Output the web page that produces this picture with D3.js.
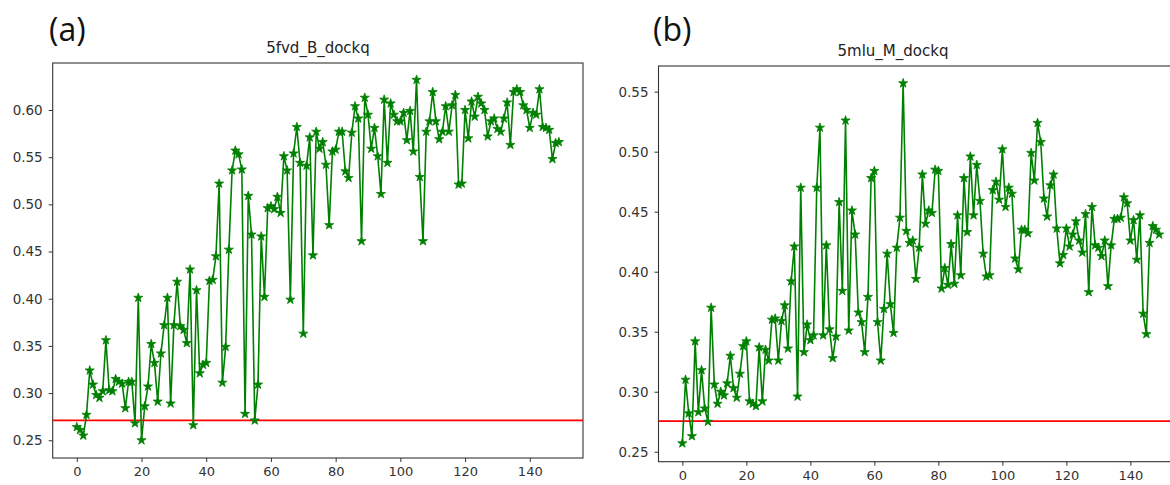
<!DOCTYPE html>
<head>
<meta charset="utf-8">
<style>
body {
    margin: 0;
    background: #fff;
}
.tick line {
    stroke: #333;
}
.tick text {
    fill: #333;
    font-family: "DejaVu Sans", sans-serif;
    font-size: 13px;
}
.y-axis .tick text {
    font-size: 13.5px;
}
.title {
    font-family: "DejaVu Sans", sans-serif;
    font-size: 15px;
    fill: #222;
}
.panel-label {
    font-family: "Open Sans", sans-serif;
    font-size: 32px;
    fill: #111;
}
</style>
</head>
<body>
<div class="viz"></div>

<script src="https://d3js.org/d3.v7.min.js"></script>

<script>
// values, one per step 0..149
const dockqA = [
    0.264, 0.261, 0.255, 0.277, 0.324, 0.309, 0.298, 0.295, 0.302, 0.356,
    0.303, 0.302, 0.315, 0.312, 0.310, 0.284, 0.312, 0.312, 0.268, 0.401,
    0.250, 0.286, 0.307, 0.352, 0.332, 0.291, 0.342, 0.372, 0.401, 0.289,
    0.372, 0.418, 0.371, 0.367, 0.353, 0.431, 0.266, 0.409, 0.321, 0.330,
    0.332, 0.419, 0.420, 0.445, 0.522, 0.311, 0.349, 0.452, 0.536, 0.557,
    0.553, 0.537, 0.278, 0.509, 0.468, 0.271, 0.309, 0.466, 0.402, 0.496,
    0.498, 0.495, 0.508, 0.491, 0.551, 0.536, 0.399, 0.554, 0.582, 0.544,
    0.363, 0.541, 0.571, 0.446, 0.577, 0.559, 0.566, 0.542, 0.478, 0.556,
    0.558, 0.577, 0.577, 0.535, 0.528, 0.576, 0.604, 0.591, 0.461, 0.613,
    0.595, 0.559, 0.581, 0.551, 0.511, 0.611, 0.544, 0.607, 0.595, 0.588,
    0.588, 0.597, 0.568, 0.599, 0.556, 0.632, 0.529, 0.461, 0.577, 0.588,
    0.619, 0.588, 0.569, 0.577, 0.604, 0.577, 0.605, 0.616, 0.521, 0.522,
    0.600, 0.570, 0.609, 0.593, 0.614, 0.607, 0.600, 0.572, 0.588, 0.591,
    0.580, 0.577, 0.591, 0.608, 0.563, 0.619, 0.622, 0.619, 0.605, 0.600,
    0.581, 0.597, 0.595, 0.622, 0.582, 0.581, 0.579, 0.548, 0.565, 0.566
];
const dockqB = [
    0.257, 0.310, 0.282, 0.263, 0.342, 0.283, 0.318, 0.286, 0.275, 0.370,
    0.306, 0.290, 0.300, 0.297, 0.307, 0.330, 0.303, 0.295, 0.315, 0.338,
    0.342, 0.292, 0.290, 0.288, 0.337, 0.292, 0.335, 0.326, 0.360, 0.361,
    0.326, 0.359, 0.372, 0.336, 0.392, 0.421, 0.296, 0.470, 0.333, 0.356,
    0.343, 0.347, 0.470, 0.520, 0.347, 0.422, 0.352, 0.328, 0.346, 0.458,
    0.384, 0.526, 0.351, 0.451, 0.431, 0.366, 0.358, 0.333, 0.379, 0.478,
    0.484, 0.358, 0.326, 0.369, 0.415, 0.373, 0.349, 0.420, 0.445, 0.557,
    0.434, 0.424, 0.426, 0.394, 0.420, 0.481, 0.440, 0.451, 0.449, 0.485,
    0.484, 0.386, 0.403, 0.389, 0.423, 0.390, 0.447, 0.397, 0.478, 0.433,
    0.496, 0.447, 0.489, 0.459, 0.415, 0.396, 0.397, 0.468, 0.475, 0.460,
    0.502, 0.454, 0.470, 0.465, 0.411, 0.402, 0.435, 0.435, 0.432, 0.499,
    0.476, 0.524, 0.508, 0.461, 0.446, 0.472, 0.481, 0.436, 0.407, 0.414,
    0.436, 0.421, 0.431, 0.442, 0.426, 0.416, 0.448, 0.383, 0.454, 0.422,
    0.420, 0.413, 0.426, 0.388, 0.422, 0.444, 0.444, 0.445, 0.462, 0.457,
    0.426, 0.443, 0.410, 0.447, 0.365, 0.348, 0.424, 0.438, 0.435, 0.431
];
const baselineA = 0.271;
const baselineB = 0.2755;

const xTicks = [0, 20, 40, 60, 80, 100, 120, 140];
const yTicksA = [0.25, 0.30, 0.35, 0.40, 0.45, 0.50, 0.55, 0.60];
const yTicksB = [0.25, 0.30, 0.35, 0.40, 0.45, 0.50, 0.55];

const titles = ["5fvd_B_dockq", "5mlu_M_dockq"];
const panelLabels = ["(a)", "(b)"];

const svg = d3.select(".viz")
              .append("svg")
                  .attr("width", 1170)
                  .attr("height", 485);

class Panel {
    constructor(args) {
        this.values = args.values;
        this.baseline = args.baseline;
        this.box = args.box;
        this.yDomain = args.yDomain;
        this.yTicks = args.yTicks;

        this.setScales();
        this.drawFrame();
        this.drawAxes();
        this.drawBaseline();
        this.drawSeries();
        this.drawText(args.title, args.titleX, args.titleY, args.label, args.labelX);
    }
    setScales() {
        // matplotlib style 5% margins around 0..149
        this.xScale = d3.scaleLinear()
                        .domain([-7.45, 156.45])
                        .range([this.box.left, this.box.right]);
        this.yScale = d3.scaleLinear()
                        .domain(this.yDomain)
                        .range([this.box.bottom, this.box.top]);
    }
    drawFrame() {
        svg.append("rect")
           .attr("x", this.box.left)
           .attr("y", this.box.top)
           .attr("width", this.box.right - this.box.left)
           .attr("height", this.box.bottom - this.box.top)
           .attr("fill", "none")
           .attr("stroke", "#333")
           .attr("stroke-width", 1.1);
    }
    drawAxes() {
        const xAxis = d3.axisBottom(this.xScale)
                        .tickValues(xTicks)
                        .tickSize(4)
                        .tickPadding(5)
                        .tickSizeOuter(0);
        const yAxis = d3.axisLeft(this.yScale)
                        .tickValues(this.yTicks)
                        .tickFormat(d3.format(".2f"))
                        .tickSize(4)
                        .tickPadding(6)
                        .tickSizeOuter(0);

        const gx = svg.append("g")
                      .attr("transform", "translate(0," + this.box.bottom + ")")
                      .call(xAxis);
        const gy = svg.append("g")
                      .attr("class", "y-axis")
                      .attr("transform", "translate(" + this.box.left + ",0)")
                      .call(yAxis);
        gx.select(".domain").remove();
        gy.select(".domain").remove();
    }
    drawBaseline() {
        svg.append("line")
           .attr("x1", this.box.left)
           .attr("x2", this.box.right)
           .attr("y1", this.yScale(this.baseline))
           .attr("y2", this.yScale(this.baseline))
           .attr("stroke", "#ff0000")
           .attr("stroke-width", 1.7);
    }
    drawSeries() {
        const line = d3.line()
                       .x(function(d, i) { return this.xScale(i); }.bind(this))
                       .y(function(d) { return this.yScale(d); }.bind(this));

        svg.append("path")
           .datum(this.values)
           .attr("d", line)
           .attr("fill", "none")
           .attr("stroke", "#008000")
           .attr("stroke-width", 1.6)
           .attr("stroke-linejoin", "round");

        const star = d3.symbol().type(d3.symbolStar).size(26);
        svg.append("g")
           .selectAll("path")
           .data(this.values)
           .enter()
           .append("path")
               .attr("d", star)
               .attr("transform", function(d, i) {
                   return "translate(" + this.xScale(i) + "," + this.yScale(d) + ")";
               }.bind(this))
               .attr("fill", "#008000")
               .attr("stroke", "#008000")
               .attr("stroke-width", 0.8);
    }
    drawText(title, titleX, titleY, label, labelX) {
        svg.append("text")
           .attr("class", "title")
           .attr("x", titleX)
           .attr("y", titleY)
           .attr("text-anchor", "middle")
           .text(title);
        svg.append("text")
           .attr("class", "panel-label")
           .attr("x", labelX)
           .attr("y", 41)
           .text(label);
    }
}

new Panel({
    values: dockqA,
    baseline: baselineA,
    box: { left: 52.7, right: 583, top: 63, bottom: 458 },
    yDomain: [0.2312, 0.6498],
    yTicks: yTicksA,
    title: titles[0], titleX: 318, titleY: 53,
    label: panelLabels[0], labelX: 49
});
new Panel({
    values: dockqB,
    baseline: baselineB,
    box: { left: 658.5, right: 1183, top: 66, bottom: 461.7 },
    yDomain: [0.2417, 0.5714],
    yTicks: yTicksB,
    title: titles[1], titleX: 893, titleY: 56,
    label: panelLabels[1], labelX: 653
});
</script>
</body>
